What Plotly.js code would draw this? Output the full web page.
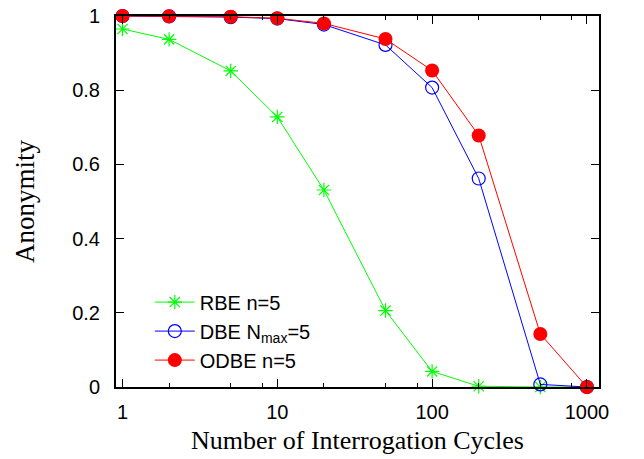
<!DOCTYPE html>
<html>
<head>
<meta charset="utf-8">
<script src="https://cdn.plot.ly/plotly-3.0.1.min.js"></script>
<style>html,body{margin:0;padding:0;background:#fff;}#chart{width:644px;height:459px;}</style>
</head>
<body>
<div id="chart"></div>
<script>
// Data
var cycles = [1, 2, 5, 10, 20, 50, 100, 200, 500, 1000];
var rbe  = [0.965, 0.937, 0.852, 0.728, 0.531, 0.206, 0.042, 0.002, 0.0, 0.0];
var dbe  = [1.0, 0.999, 0.997, 0.993, 0.977, 0.922, 0.807, 0.562, 0.007, 0.0];
var odbe = [1.0, 0.999, 0.998, 0.994, 0.980, 0.938, 0.853, 0.678, 0.143, 0.0];
var names = ['RBE n=5', 'DBE N<sub>max</sub>=5', 'ODBE n=5'];
var xTickVals = [1, 10, 100, 1000];
var xTickText = ['1', '10', '100', '1000'];
var xMinorVals = [2, 5, 8, 20, 50, 80, 200, 500, 800];
var yTickVals = [0, 0.2, 0.4, 0.6, 0.8, 1];
var yTickText = ['0', '0.2', '0.4', '0.6', '0.8', '1'];

var traces = [
  {x: cycles, y: rbe, name: names[0], type: 'scatter', mode: 'lines+markers', cliponaxis: false,
   line: {color: '#00ff00', width: 1},
   marker: {symbol: 'asterisk-open', size: 12, color: '#00ff00', line: {color: '#00ff00', width: 1.2}}},
  {x: cycles, y: dbe, name: names[1], type: 'scatter', mode: 'lines+markers', cliponaxis: false,
   line: {color: '#0000ff', width: 1},
   marker: {symbol: 'circle-open', size: 13, color: '#0000ff', line: {color: '#0000ff', width: 1.2}}},
  {x: cycles, y: odbe, name: names[2], type: 'scatter', mode: 'lines+markers', cliponaxis: false,
   line: {color: '#ff0000', width: 1},
   marker: {symbol: 'circle', size: 14, color: '#ff0000'}}
];

var layout = {
  width: 644, height: 459,
  margin: {l: 116, r: 45, t: 16, b: 72, pad: 0},
  paper_bgcolor: '#fff', plot_bgcolor: '#fff',
  showlegend: true,
  legend: {x: 0.07, y: 0.02, xanchor: 'left', yanchor: 'bottom', bgcolor: 'rgba(0,0,0,0)',
           font: {family: 'Liberation Sans, Arial, sans-serif', size: 20, color: '#000'},
           tracegroupgap: 0, itemwidth: 40},
  xaxis: {
    type: 'log', range: [-0.042, 3.078],
    tickmode: 'array', tickvals: xTickVals, ticktext: xTickText,
    ticks: 'inside', ticklen: 8, tickwidth: 1, tickcolor: '#000',
    minor: {tickmode: 'array', tickvals: xMinorVals, ticks: 'inside', ticklen: 4, tickwidth: 1, tickcolor: '#000'},
    showline: true, linecolor: '#000', linewidth: 2, mirror: 'ticks',
    showgrid: false, zeroline: false,
    ticklabelstandoff: 6,
    tickfont: {family: 'Liberation Sans, Arial, sans-serif', size: 20, color: '#000'},
    title: {text: 'Number of Interrogation Cycles', standoff: 9,
            font: {family: 'Liberation Serif, Times New Roman, serif', size: 26, color: '#000'}}
  },
  yaxis: {
    range: [0, 1],
    tickmode: 'array', tickvals: yTickVals, ticktext: yTickText,
    ticks: 'inside', ticklen: 8, tickwidth: 1, tickcolor: '#000',
    showline: true, linecolor: '#000', linewidth: 2, mirror: 'ticks',
    showgrid: false, zeroline: false,
    ticklabelstandoff: 10,
    tickfont: {family: 'Liberation Sans, Arial, sans-serif', size: 20, color: '#000'},
    title: {text: 'Anonymity', standoff: 30,
            font: {family: 'Liberation Serif, Times New Roman, serif', size: 27, color: '#000'}}
  }
};

Plotly.newPlot('chart', traces, layout, {staticPlot: true, displayModeBar: false});
</script>
</body>
</html>
